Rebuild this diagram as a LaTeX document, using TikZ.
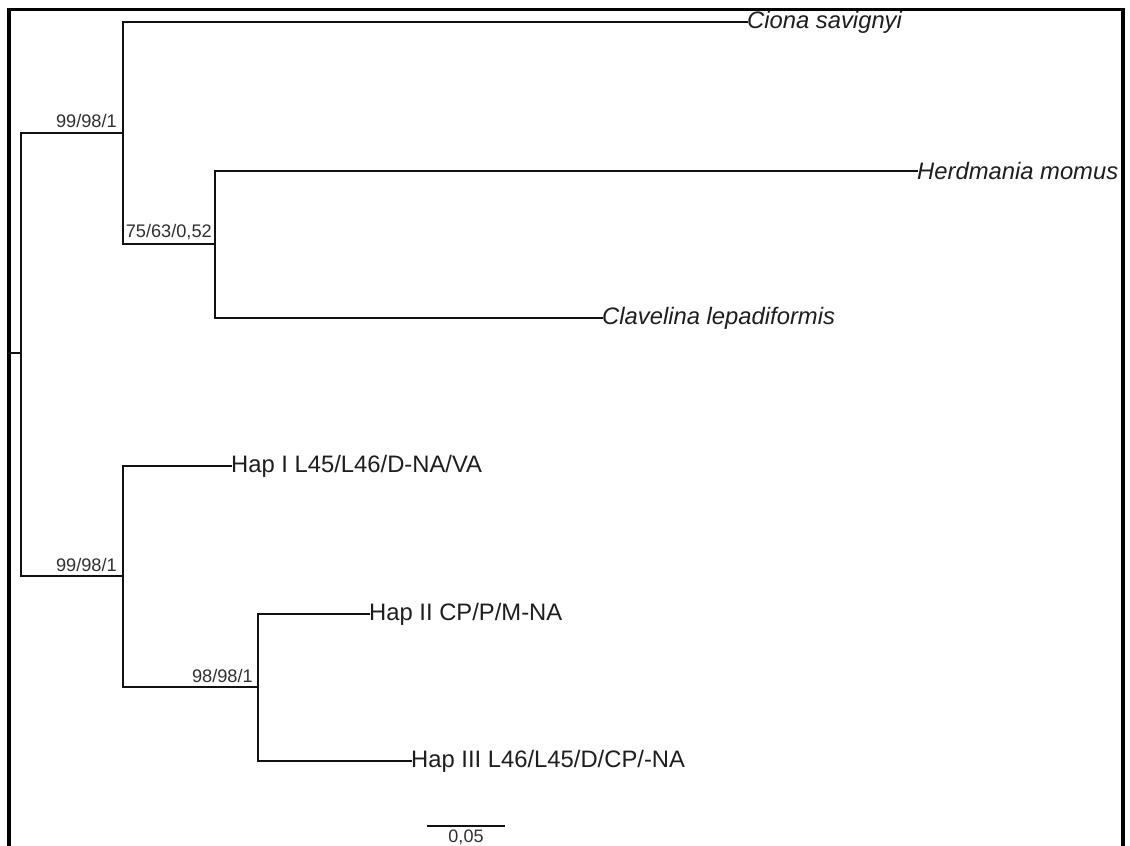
\documentclass[tikz,border=0pt]{standalone}
\usepackage{fontspec}
\setmainfont{Liberation Sans}
\definecolor{ink}{HTML}{111111}
\definecolor{txt}{HTML}{1E1E1E}
\definecolor{sup}{HTML}{303030}
\tikzset{
  branch/.style={draw=ink, line width=2.6pt, line cap=rect},
  frame/.style={draw=black, line width=3.8pt},
  taxon/.style={anchor=west, inner sep=0pt, text=txt, font=\fontsize{23.8}{28}\selectfont},
  taxonit/.style={taxon, font=\fontsize{23.8}{28}\selectfont\itshape},
  support/.style={anchor=base east, inner sep=0pt, text=sup, font=\fontsize{18.2}{21}\selectfont},
  scalelbl/.style={anchor=base, inner sep=0pt, text=sup, font=\fontsize{18}{21}\selectfont}
}
\begin{document}
\begin{tikzpicture}[x=1pt, y=-1pt]
\useasboundingbox (0,0) rectangle (1130,846);
\fill[white] (0,0) rectangle (1130,846);
% frame (open at bottom)
\draw[frame] (9,860) -- (9,9.5) -- (1123,9.5) -- (1123,860);

% internal nodes
\coordinate (root) at (21,353);
\coordinate (rootL) at (9,353);
\coordinate (nA) at (123,133);
\coordinate (nB) at (215,244);
\coordinate (nC) at (123,576);
\coordinate (nD) at (258,687);

% leaves
\node[taxonit] (ciona) at (747,22) {Ciona savignyi};
\node[taxonit] (herd) at (917,171) {Herdmania momus};
\node[taxonit] (clav) at (602,318) {Clavelina lepadiformis};
\node[taxon] (hap1) at (231,466) {Hap I L45/L46/D-NA/VA};
\node[taxon] (hap2) at (369,614) {Hap II CP/P/M-NA};
\node[taxon] (hap3) at (411,761) {Hap III L46/L45/D/CP/-NA};

% branches
\draw[branch] (rootL) -- (root);
\draw[branch] (root |- nA) -- (root |- nC);
\draw[branch] (root |- nA) -- (nA);
\draw[branch] (root |- nC) -- (nC);

\draw[branch] (nA |- ciona.west) -- (nA |- nB);
\draw[branch] (nA |- ciona.west) -- (ciona.west);
\draw[branch] (nA |- nB) -- (nB);
\draw[branch] (nB |- herd.west) -- (nB |- clav.west);
\draw[branch] (nB |- herd.west) -- (herd.west);
\draw[branch] (nB |- clav.west) -- (clav.west);

\draw[branch] (nC |- hap1.west) -- (nC |- nD);
\draw[branch] (nC |- hap1.west) -- (hap1.west);
\draw[branch] (nC |- nD) -- (nD);
\draw[branch] (nD |- hap2.west) -- (nD |- hap3.west);
\draw[branch] (nD |- hap2.west) -- (hap2.west);
\draw[branch] (nD |- hap3.west) -- (hap3.west);

% support values
\node[support] (sA) at (117,127) {99/98/1};
\node[support] (sB) at (212,237) {75/63/0,52};
\node[support] (sC) at (117,571) {99/98/1};
\node[support] (sD) at (253,682) {98/98/1};

% scale bar
\coordinate (sb1) at (427,826);
\coordinate (sb2) at (505,826);
\draw[branch, line cap=butt] (sb1) -- (sb2);
\node[scalelbl] (sbl) at (466,842) {0,05};
\end{tikzpicture}
\end{document}
